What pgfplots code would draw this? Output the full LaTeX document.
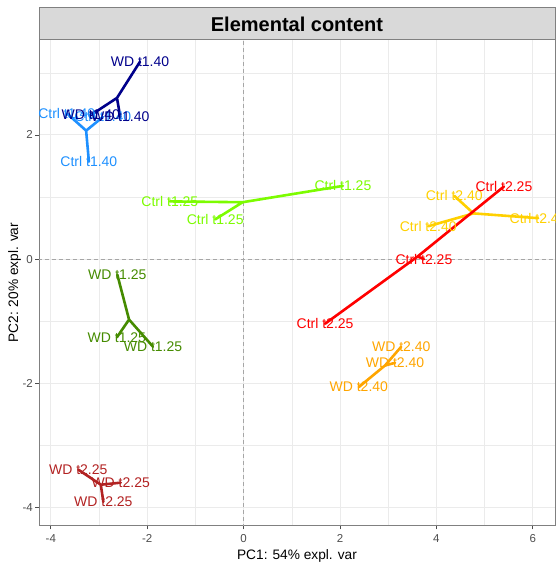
\documentclass[border=0pt]{standalone}
\usepackage{pgfplots}
\pgfplotsset{compat=1.18}
\usepackage{fontspec}
\setmainfont{Liberation Sans}
\definecolor{cWDfourty}{HTML}{00008B}
\definecolor{cCtrlfourty}{HTML}{1E90FF}
\definecolor{cCtrltwfive}{HTML}{7CFC00}
\definecolor{cWDtwfive}{HTML}{458B00}
\definecolor{cCtrltwotwfive}{HTML}{FF0000}
\definecolor{cCtrltwofourty}{HTML}{FFD000}
\definecolor{cWDtwofourty}{HTML}{FFA500}
\definecolor{cWDtwotwfive}{HTML}{B22222}
\definecolor{gridc}{HTML}{EBEBEB}
\definecolor{tickc}{HTML}{4D4D4D}
\definecolor{stripc}{HTML}{D9D9D9}
\definecolor{borderc}{HTML}{808080}
\pgfplotsset{
  grp/.style={line width=2.6pt, color=#1, mark=none, line join=round, line cap=round},
  lbl/.style={draw=none, mark=none, nodes near coords, point meta=explicit symbolic,
    nodes near coords style={anchor=center, inner sep=0pt, text=#1, font=\fontsize{14}{14}\selectfont}},
}
\begin{document}
\begin{tikzpicture}
\begin{axis}[
  at={(39pt,41.5pt)}, anchor=south west,
  scale only axis, width=516pt, height=485.5pt,
  xmin=-4.245, xmax=6.46, ymin=-4.29, ymax=3.53,
  xtick={-4,-2,0,2,4,6}, ytick={-4,-2,0,2},
  minor xtick={-3,-1,1,3,5}, minor ytick={-3,-1,1,3},
  grid=both,
  major grid style={gridc, line width=1pt},
  minor grid style={gridc, line width=0.5pt},
  tick pos=left, tick align=outside,
  major tick length=4pt, minor tick length=0pt,
  tick style={tickc, line width=0.8pt},
  axis line style={borderc, line width=1pt},
  /pgf/number format/assume math mode=true,
  ticklabel style={font=\fontsize{11.5}{11.5}\selectfont, text=tickc},
  xticklabel style={inner sep=1pt, yshift=-4pt},
  yticklabel style={inner sep=1pt, xshift=-1pt},
  xlabel={PC1: 54\% expl. var},
  ylabel={PC2: 20\% expl. var},
  label style={font=\fontsize{13.7}{13.7}\selectfont},
  xlabel style={yshift=-2pt},
  ylabel style={yshift=-3pt},
  every axis title/.style={at={(0.5,1)}, anchor=south, draw=borderc, line width=1pt, fill=stripc,
    minimum width=516pt, minimum height=32pt, inner sep=0pt, outer sep=0pt,
    font=\fontsize{20}{20}\selectfont},
  title={\textbf{Elemental content}},
]
% reference lines
\addplot[gray!70, dashed, line width=0.8pt, dash pattern=on 4pt off 3pt] coordinates {(0,-5) (0,5)};
\addplot[gray!70, dashed, line width=0.8pt, dash pattern=on 4pt off 3pt] coordinates {(-5,0) (7,0)};
% stars: centroid -> points
\addplot[grp=cCtrltwofourty] coordinates {(4.77,0.737) (4.37,1.02) (4.77,0.737) (3.83,0.53) (4.77,0.737) (6.11,0.66)};
\addplot[grp=cCtrltwotwfive] coordinates {(3.61,0.043) (5.40,1.17) (3.61,0.043) (3.74,0.0) (3.61,0.043) (1.69,-1.04)};
\addplot[grp=cCtrltwfive] coordinates {(-0.02,0.917) (2.06,1.18) (-0.02,0.917) (-1.53,0.93) (-0.02,0.917) (-0.59,0.64)};
\addplot[grp=cCtrlfourty] coordinates {(-3.267,2.07) (-3.21,1.57) (-3.267,2.07) (-3.67,2.35) (-3.267,2.07) (-2.92,2.29)};
\addplot[grp=cWDtwfive] coordinates {(-2.377,-0.973) (-2.62,-0.25) (-2.377,-0.973) (-2.63,-1.26) (-2.377,-0.973) (-1.88,-1.41)};
\addplot[grp=cWDfourty] coordinates {(-2.627,2.597) (-2.15,3.18) (-2.627,2.597) (-2.56,2.29) (-2.627,2.597) (-3.17,2.32)};
\addplot[grp=cWDtwotwfive] coordinates {(-2.963,-3.633) (-3.43,-3.39) (-2.963,-3.633) (-2.55,-3.60) (-2.963,-3.633) (-2.91,-3.91)};
\addplot[grp=cWDtwofourty] coordinates {(2.933,-1.713) (3.27,-1.41) (2.933,-1.713) (3.14,-1.67) (2.933,-1.713) (2.39,-2.06)};
% labels
\addplot[lbl=cCtrltwofourty] coordinates {(4.37,1.02) [Ctrl t2.40] (3.83,0.53) [Ctrl t2.40] (6.11,0.66) [Ctrl t2.40]};
\addplot[lbl=cCtrltwotwfive] coordinates {(5.40,1.17) [Ctrl t2.25] (3.74,0.0) [Ctrl t2.25] (1.69,-1.04) [Ctrl t2.25]};
\addplot[lbl=cCtrltwfive] coordinates {(2.06,1.18) [Ctrl t1.25] (-1.53,0.93) [Ctrl t1.25] (-0.59,0.64) [Ctrl t1.25]};
\addplot[lbl=cCtrlfourty] coordinates {(-3.21,1.57) [Ctrl t1.40] (-3.67,2.35) [Ctrl t1.40] (-2.92,2.29) [Ctrl t1.40]};
\addplot[lbl=cWDtwfive] coordinates {(-2.62,-0.25) [WD t1.25] (-2.63,-1.26) [WD t1.25] (-1.88,-1.41) [WD t1.25]};
\addplot[lbl=cWDfourty] coordinates {(-2.15,3.18) [WD t1.40] (-2.56,2.29) [WD t1.40] (-3.17,2.32) [WD t1.40]};
\addplot[lbl=cWDtwotwfive] coordinates {(-3.43,-3.39) [WD t2.25] (-2.55,-3.60) [WD t2.25] (-2.91,-3.91) [WD t2.25]};
\addplot[lbl=cWDtwofourty] coordinates {(3.27,-1.41) [WD t2.40] (3.14,-1.67) [WD t2.40] (2.39,-2.06) [WD t2.40]};
\end{axis}
\pgfresetboundingbox
\useasboundingbox (0,0) rectangle (556pt,567pt);
\end{tikzpicture}
\end{document}
